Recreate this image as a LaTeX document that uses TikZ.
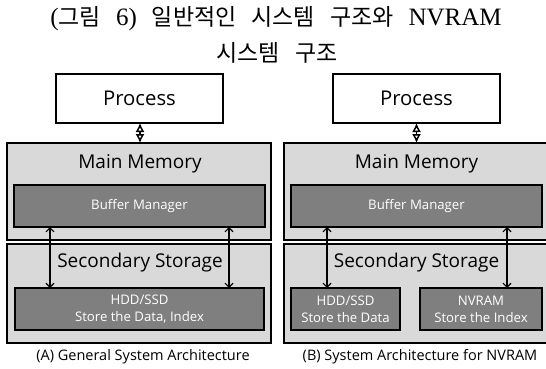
\documentclass[tikz,border=0pt]{standalone}
\usepackage{fontspec}
\setmainfont{Liberation Serif}
\newfontfamily\kr{Noto Sans CJK KR}
\newfontfamily\ui{Open Sans}
\usetikzlibrary{arrows.meta}
\definecolor{lightbox}{HTML}{D9D9D9}
\definecolor{darkbox}{HTML}{7F7F7F}
\newcommand{\ktxt}[1]{{\kr\fontsize{23}{25}\selectfont #1}}
\newcommand{\stxt}[1]{{\rmfamily\fontsize{25}{27}\selectfont #1}}
\newcommand{\wsp}{\hspace{15pt}}
\begin{document}
\begin{tikzpicture}[x=1pt,y=-1pt,
  outerbox/.style={draw=black,line width=1.6pt,fill=lightbox},
  innerbox/.style={draw=black,line width=1.6pt,fill=darkbox},
  procbox/.style={draw=black,line width=1.6pt,fill=white},
  bigtxt/.style={font=\ui\fontsize{19}{22}\selectfont},
  proctxt/.style={font=\ui\fontsize{20.3}{22}\selectfont},
  smalltxt/.style={font=\ui\fontsize{13.2}{17}\selectfont,text=white,align=center},
  captxt/.style={font=\ui\fontsize{14.5}{17}\selectfont},
  dbl/.style={line width=1.1pt,{Straight Barb[length=4pt,width=8pt]}-{Straight Barb[length=4pt,width=8pt]}},
  diam/.style={line width=1.5pt,{Latex[open,length=9pt,width=9pt]}-{Latex[open,length=9pt,width=9pt]}}
]
\useasboundingbox (0,0) rectangle (546,369);
% title
\node[inner sep=0pt] (t1) at (276,19) {\stxt{(}\ktxt{그림}\wsp\stxt{6)}\wsp\ktxt{일반적인}\wsp\ktxt{시스템}\wsp\ktxt{구조와}\wsp\stxt{NVRAM}};
\node[inner sep=0pt] (t2) at (277,53) {\ktxt{시스템}\wsp\ktxt{구조}};

% ---------- left panel ----------
\draw[procbox] (56,74) rectangle (223,123);
\node[proctxt] (pA) at (139.5,98.5) {Process};
\coordinate (pAb) at (140,123);
\draw[outerbox] (7,143) rectangle (271,240);
\node[bigtxt] (mmA) at (140,164) {Main Memory};
\coordinate (mmAt) at (140,143);
\draw[innerbox] (14,185) rectangle (265,227);
\node[smalltxt] (bmA) at (139.5,206) {Buffer Manager};
\draw[outerbox] (7,244) rectangle (271,343);
\node[bigtxt] (ssA) at (140,263) {Secondary Storage};
\draw[innerbox] (15,288) rectangle (264,330);
\node[smalltxt] (hdA) at (139.5,309) {HDD/SSD\\Store the Data, Index};
\coordinate (a1t) at (50,227);
\coordinate (a1b) at (50,288);
\coordinate (a2t) at (229,227);
\coordinate (a2b) at (229,288);
\draw[dbl] (a1t) -- (a1b);
\draw[dbl] (a2t) -- (a2b);
\draw[diam] (pAb) -- (mmAt);
\node[captxt] (capA) at (143,357) {(A) General System Architecture};

% ---------- right panel ----------
\draw[procbox] (333,74) rectangle (500,123);
\node[proctxt] (pB) at (416.5,98.5) {Process};
\coordinate (pBb) at (416.5,123);
\draw[outerbox] (284,143) rectangle (550,240);
\node[bigtxt] (mmB) at (416.5,164) {Main Memory};
\coordinate (mmBt) at (416.5,143);
\draw[innerbox] (291,185) rectangle (542,227);
\node[smalltxt] (bmB) at (416.5,206) {Buffer Manager};
\draw[outerbox] (284,244) rectangle (550,343);
\node[bigtxt] (ssB) at (416.5,263) {Secondary Storage};
\draw[innerbox] (291,288) rectangle (400,330);
\node[smalltxt] (hdB) at (345.5,309) {HDD/SSD\\Store the Data};
\draw[innerbox] (420,288) rectangle (542,330);
\node[smalltxt] (nvB) at (481,309) {NVRAM\\Store the Index};
\coordinate (b1t) at (327,227);
\coordinate (b1b) at (327,288);
\coordinate (b2t) at (507,227);
\coordinate (b2b) at (507,288);
\draw[dbl] (b1t) -- (b1b);
\draw[dbl] (b2t) -- (b2b);
\draw[diam] (pBb) -- (mmBt);
\node[captxt] (capB) at (420,357) {(B) System Architecture for NVRAM};
\end{tikzpicture}
\end{document}
